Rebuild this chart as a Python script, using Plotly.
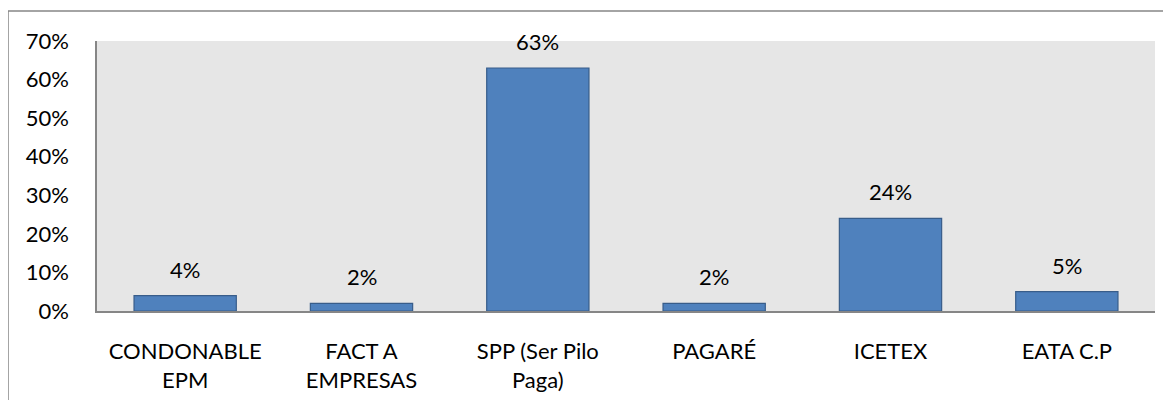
import plotly.graph_objects as go

categories = ["CONDONABLE<br>EPM", "FACT A<br>EMPRESAS", "SPP (Ser Pilo<br>Paga)", "PAGARÉ", "ICETEX", "EATA C.P"]
values = [4, 2, 63, 2, 24, 5]
labels = ["4%", "2%", "63%", "2%", "24%", "5%"]
yticks = [0, 10, 20, 30, 40, 50, 60, 70]
yticklabels = ["0%", "10%", "20%", "30%", "40%", "50%", "60%", "70%"]

FONT = "Lato, Open Sans, sans-serif"
FS = 22

fig = go.Figure()
fig.add_trace(go.Bar(
    x=categories, y=values,
    marker=dict(color="#4f81bd", line=dict(color="#385d8a", width=1.2)),
    width=0.58,
))

for c, v, t in zip(categories, values, labels):
    fig.add_annotation(x=c, y=v, text=t, showarrow=False, yanchor="bottom",
                       yshift=11, font=dict(family=FONT, size=FS, color="#000000"))

# outer chart border
fig.add_shape(type="rect", xref="paper", yref="paper",
              x0=-89/1058, x1=1.1, y0=-0.5, y1=(311-11)/270,
              line=dict(color="#868686", width=1.5), fillcolor="rgba(0,0,0,0)", layer="below")

fig.update_layout(
    width=1171, height=400,
    margin=dict(l=89, r=24, t=33, b=97),
    paper_bgcolor="white", plot_bgcolor="#e6e6e6",
    showlegend=False,
    font=dict(family=FONT, size=FS, color="#000000"),
    xaxis=dict(showline=True, linecolor="#868686", linewidth=1.5, showgrid=False,
               tickfont=dict(family=FONT, size=FS), ticks="", ticklabelstandoff=20),
    yaxis=dict(range=[0, 70], tickvals=yticks, ticktext=yticklabels, showgrid=False,
               showline=True, linecolor="#868686", linewidth=1.5, zeroline=False,
               tickfont=dict(family=FONT, size=FS), ticks="", ticklabelstandoff=22),
)

fig.write_html("out.html")
